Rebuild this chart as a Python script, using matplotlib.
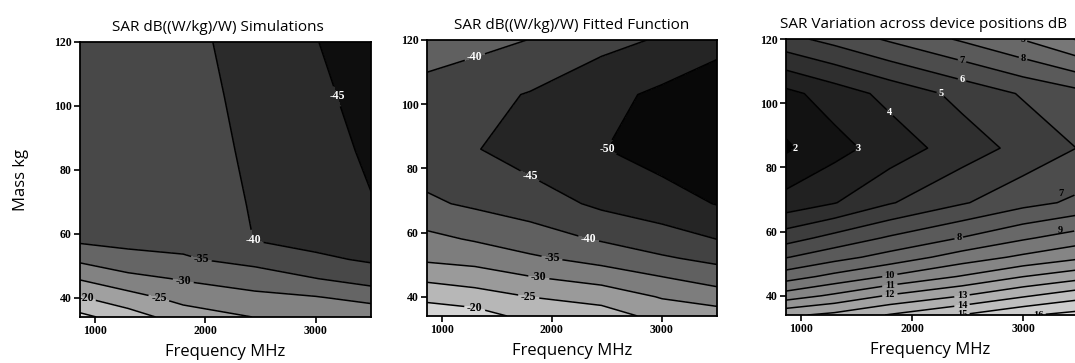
import numpy as np
import matplotlib.pyplot as plt

plt.rcParams['contour.negative_linestyle'] = 'solid'

# grid the three maps are drawn on
freq_mhz = [865, 1300, 1800, 2450, 3000, 3500]
mass_kg = [34, 40, 46, 52, 58, 69, 86, 103, 120]

# rows = mass, columns = frequency
sar_sim = [
    [-13.7, -17.5, -22.5, -25.1, -26.0, -26.5],
    [-19.6, -23.1, -26.5, -28.6, -29.6, -31.5],
    [-25.4, -28.3, -30.5, -32.6, -34.9, -37.2],
    [-31.0, -33.8, -34.5, -36.5, -39.1, -40.6],
    [-35.8, -36.0, -36.3, -40.1, -41.5, -42.2],
    [-36.3, -36.8, -37.8, -40.3, -42.8, -44.8],
    [-37.0, -37.5, -38.7, -40.5, -43.5, -45.6],
    [-37.5, -38.0, -39.0, -40.75, -44.0, -46.6],
    [-38.0, -38.5, -39.3, -41.0, -44.9, -46.7],
]

sar_fit = [
    [-16.7, -17.9, -21.5, -22.8, -26.5, -27.5],
    [-21.4, -22.7, -25.05, -26.8, -30.4, -32.5],
    [-26.2, -27.6, -29.7, -32.1, -34.8, -37.3],
    [-31.0, -31.8, -34.2, -36.8, -39.4, -41.3],
    [-33.7, -35.5, -37.7, -40.5, -42.8, -45.05],
    [-39.2, -40.8, -42.4, -46.0, -48.0, -50.2],
    [-43.0, -44.7, -47.5, -49.8, -52.0, -53.0],
    [-41.8, -43.5, -45.3, -48.5, -51.0, -51.8],
    [-37.4, -38.4, -40.1, -43.5, -45.5, -49.0],
]

sar_var = [
    [12.8, 13.25, 14.07, 15.03, 15.87, 16.35],
    [10.47, 11.19, 12.1, 12.98, 13.87, 14.62],
    [8.53, 9.28, 10.09, 11.07, 11.98, 12.63],
    [6.95, 7.64, 8.38, 9.46, 10.2, 10.81],
    [5.57, 6.33, 7.13, 8.04, 8.86, 9.5],
    [3.37, 3.95, 4.92, 5.9, 6.68, 7.2],
    [1.85, 2.65, 3.45, 4.5, 5.3, 6.03],
    [2.72, 3.46, 4.3, 5.29, 6.1, 6.7],
    [5.7, 6.34, 7.15, 8.14, 9.05, 10.1],
]

levels_sim = [-50, -45, -40, -35, -30, -25, -20, -15, -10]
levels_fit = [-55, -50, -45, -40, -35, -30, -25, -20, -15]
levels_var = list(range(2, 18))

titles = ["SAR dB((W/kg)/W) Simulations",
          "SAR dB((W/kg)/W) Fitted Function",
          "SAR Variation across device positions dB"]

X, Y = np.meshgrid(freq_mhz, mass_kg)

fig = plt.figure(figsize=(10.75, 3.63), dpi=100)
W, H = 1075.0, 363.0

# left, top, right, bottom of each plot box in pixels, right x limit, title centre (px)
boxes = [(80, 42, 371, 317, 3500, 218), (427, 40, 717, 316, 3500, 572),
         (786, 39, 1075, 315, 3468, 924)]
# (data, levels, vmin, vmax, white-label threshold, label size)
setups = [
    (sar_sim, levels_sim, -50.0, -6.0, -40, 8.5),
    (sar_fit, levels_fit, -54.0, -10.0, -40, 8.5),
    (sar_var, levels_var, 1.2, 19.0, 6, 7.5),
]

for i, (box, (Z, lev, vmin, vmax, thr, fs)) in enumerate(zip(boxes, setups)):
    l, t, r, b, xr, tc = box
    ax = fig.add_axes([l / W, 1 - b / H, (r - l) / W, (b - t) / H])
    Z = np.array(Z)
    ax.contourf(X, Y, Z, levels=lev, cmap='gray', vmin=vmin, vmax=vmax, extend='both')
    cs = ax.contour(X, Y, Z, levels=lev, colors='k', linewidths=1.1)
    lab_cols = ['white' if v <= thr else 'black' for v in cs.levels]
    txts = ax.clabel(cs, fmt='%d', fontsize=fs, colors=lab_cols, inline=True, inline_spacing=1)
    for tx in txts:
        tx.set_fontfamily('Liberation Serif')
        tx.set_fontweight('bold')
        tx.set_rotation(0)
        # keep labels that sit on the frame edge inside the plot
        x, y = tx.get_position()
        tx.set_position((min(max(x, 865 + 60), xr - 130), y))
    ax.set_xlim(865, xr)
    ax.set_ylim(34, 120)
    ax.set_xticks([1000, 2000, 3000])
    ax.set_yticks([40, 60, 80, 100, 120])
    ax.tick_params(direction='out', length=4, width=1.2, pad=2, labelsize=8.5)
    for lbl in ax.get_xticklabels() + ax.get_yticklabels():
        lbl.set_fontfamily('Liberation Serif')
        lbl.set_fontweight('bold')
    for sp in ax.spines.values():
        sp.set_linewidth(1.3)
    if i == 2:
        ax.spines['right'].set_visible(False)
    ax.set_title(titles[i], fontsize=11, family='Open Sans', pad=8,
                 x=(tc - l) / (r - l))
    ax.set_xlabel("Frequency MHz", fontsize=12, family='Open Sans', labelpad=5)
    if i == 0:
        ax.set_ylabel("Mass kg", fontsize=12, family='Open Sans', labelpad=18)

plt.savefig("out.png", dpi=100)
